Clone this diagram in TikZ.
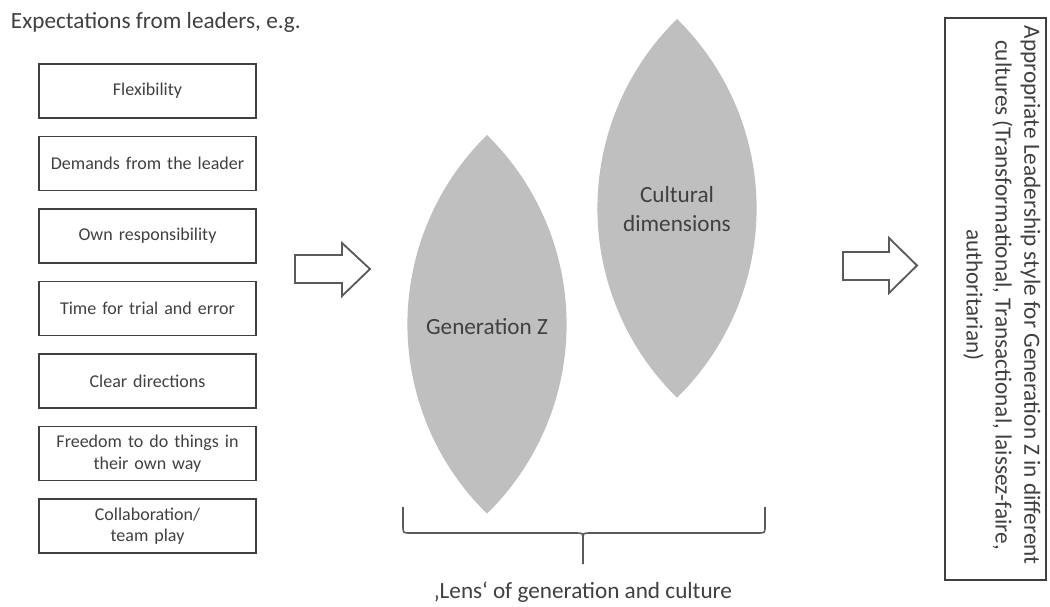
\documentclass[tikz,border=0pt]{standalone}
\usepackage{fontspec}
\setmainfont{Carlito}
\usetikzlibrary{positioning}
\definecolor{txtgray}{HTML}{404040}
\definecolor{lensgray}{HTML}{BFBFBF}
\definecolor{linegray}{HTML}{5A5A5A}

\begin{document}
\begin{tikzpicture}[x=0.025cm, y=-0.025cm,
  expbox/.style={draw=txtgray, line width=1.2pt, minimum width=5.425cm, minimum height=1.35cm,
    text width=5.1cm, align=center, inner sep=0pt, text=txtgray, font=\fontsize{12.8}{15.4}\selectfont},
  bigtext/.style={text=txtgray, align=center, font=\fontsize{16.5}{20.5}\selectfont},
  lens/.style={fill=lensgray, draw=none},
  blockarrow/.style={draw=linegray, line width=1.3pt, fill=white, line join=miter},
  braceline/.style={draw=linegray, line width=1.1pt}]
\useasboundingbox (0,0) rectangle (1050,606);

% expectations column
\node[bigtext, anchor=west] (title) at (6,22) {Expectations from leaders, e.g.};
\node[expbox] (flex) at (147.5,91) {Flexibility};
\node[expbox, below=0.42cm of flex] (demands) {Demands from the leader};
\node[expbox, below=0.42cm of demands] (respons) {Own responsibility};
\node[expbox, below=0.42cm of respons] (trial) {Time for trial and error};
\node[expbox, below=0.42cm of trial] (direct) {Clear directions};
\node[expbox, below=0.42cm of direct] (freedom) {Freedom to do things in\\ their own way};
\node[expbox, below=0.42cm of freedom] (collab) {Collaboration/\\ team play};

% block arrows
\draw[blockarrow] (295,255) -- (342,255) -- (342,243) -- (370,269) -- (342,296) -- (342,283) -- (295,283) -- cycle;
\draw[blockarrow] (843,252) -- (889,252) -- (889,238) -- (917,265.5) -- (889,293) -- (889,280) -- (843,280) -- cycle;

% lenses
\fill[lens] (487,135) arc[start angle=-45.6, end angle=45.6, radius=265]
  arc[start angle=134.4, end angle=225.6, radius=265] -- cycle;
\fill[lens] (677,19) arc[start angle=-45.6, end angle=45.6, radius=265]
  arc[start angle=134.4, end angle=225.6, radius=265] -- cycle;
\node[bigtext] (genz) at (487,327) {Generation Z};
\node[bigtext] (culture) at (677,209) {Cultural\\ dimensions};

% brace
\draw[braceline] (403,507) -- (403,526) .. controls (403,533) .. (410,533) -- (576,533)
  .. controls (583,533) .. (583,540) -- (583,564);
\draw[braceline] (765,507) -- (765,526) .. controls (765,533) .. (758,533) -- (590,533)
  .. controls (583,533) .. (583,540);
\node[bigtext] (lenslabel) at (583,592) {‚Lens‘ of generation and culture};

% result
\node[draw=txtgray, line width=1.2pt, rotate=-90, minimum width=14.05cm, minimum height=2.525cm,
  inner sep=0pt] (resultbox) at (995.5,299) {};
\node[bigtext, rotate=-90] (result) at (1002,295)
  {Appropriate Leadership style for Generation Z in different\\
   cultures (Transformational, Transactional, laissez-faire,\\
   authoritarian)};
\end{tikzpicture}
\end{document}
